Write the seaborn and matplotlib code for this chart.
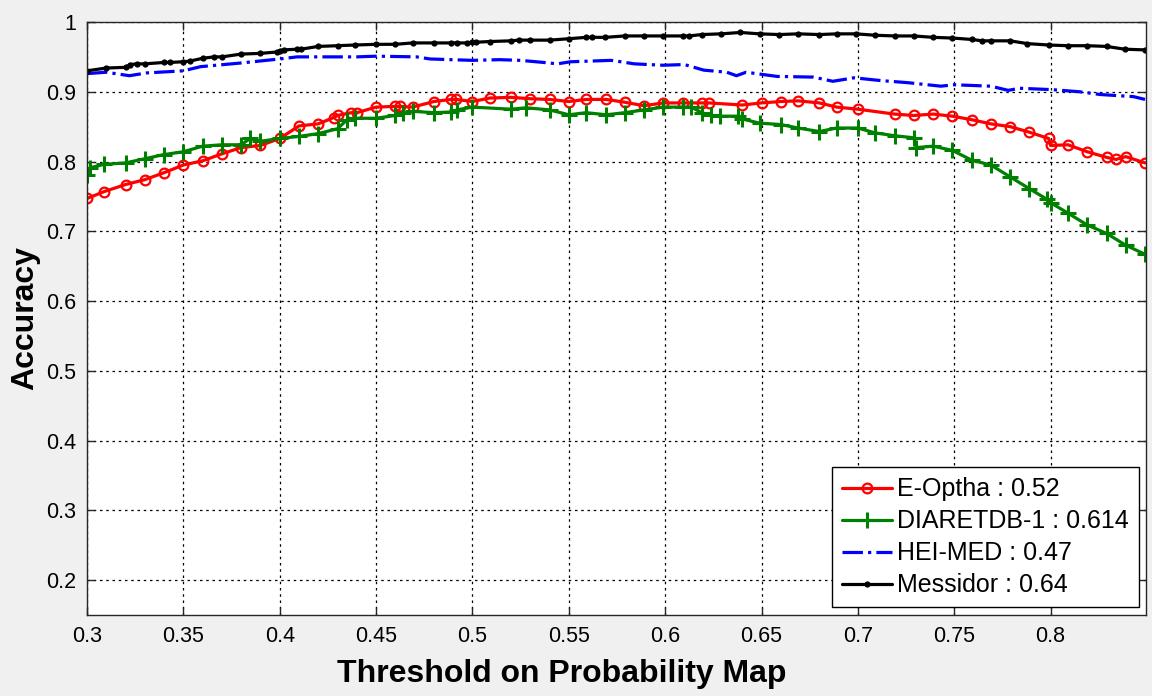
import numpy as np
import pandas as pd
import matplotlib
matplotlib.use('Agg')
import matplotlib.pyplot as plt
import seaborn as sns
from matplotlib.ticker import FuncFormatter

# values
eoptha_x = [0.300, 0.309, 0.320, 0.330, 0.340, 0.350, 0.360, 0.370, 0.380, 0.390, 0.400, 0.410, 0.420, 0.428, 0.430, 0.437,
            0.440, 0.450, 0.460, 0.4625, 0.469, 0.480, 0.489, 0.4915, 0.500, 0.509, 0.520, 0.530, 0.540, 0.550, 0.559, 0.5695,
            0.579, 0.589, 0.599, 0.609, 0.619, 0.6226, 0.640, 0.650, 0.660, 0.669, 0.680, 0.689, 0.700, 0.719, 0.729, 0.739,
            0.749, 0.759, 0.769, 0.779, 0.789, 0.799, 0.800, 0.809, 0.819, 0.829, 0.834, 0.839, 0.849]
eoptha_y = [0.747, 0.757, 0.767, 0.774, 0.784, 0.795, 0.801, 0.811, 0.820, 0.823, 0.833, 0.851, 0.854, 0.863, 0.866, 0.870,
            0.870, 0.878, 0.879, 0.879, 0.878, 0.886, 0.889, 0.889, 0.886, 0.891, 0.892, 0.890, 0.889, 0.886, 0.889, 0.889,
            0.885, 0.880, 0.884, 0.884, 0.884, 0.884, 0.881, 0.884, 0.886, 0.887, 0.884, 0.878, 0.875, 0.868, 0.866, 0.868,
            0.865, 0.860, 0.854, 0.850, 0.842, 0.833, 0.823, 0.824, 0.814, 0.806, 0.803, 0.807, 0.798]

diaret_x = [0.300, 0.3015, 0.309, 0.320, 0.330, 0.340, 0.350, 0.360, 0.370, 0.380, 0.3846, 0.390, 0.400, 0.410, 0.420, 0.430,
            0.435, 0.439, 0.450, 0.460, 0.464, 0.469, 0.480, 0.489, 0.492, 0.500, 0.520, 0.528, 0.540, 0.550, 0.559, 0.5695,
            0.579, 0.589, 0.599, 0.609, 0.6136, 0.619, 0.624, 0.6287, 0.638, 0.640, 0.649, 0.660, 0.669, 0.680, 0.689, 0.700,
            0.709, 0.719, 0.729, 0.7304, 0.739, 0.749, 0.759, 0.769, 0.779, 0.789, 0.798, 0.800, 0.809, 0.819, 0.829, 0.839,
            0.849]
diaret_y = [0.781, 0.791, 0.796, 0.798, 0.804, 0.810, 0.814, 0.822, 0.824, 0.824, 0.833, 0.829, 0.833, 0.836, 0.840, 0.847,
            0.860, 0.862, 0.862, 0.866, 0.869, 0.872, 0.870, 0.871, 0.874, 0.878, 0.875, 0.877, 0.874, 0.867, 0.870, 0.867,
            0.870, 0.874, 0.878, 0.878, 0.878, 0.870, 0.866, 0.865, 0.865, 0.861, 0.855, 0.853, 0.848, 0.843, 0.848, 0.848,
            0.841, 0.837, 0.834, 0.820, 0.822, 0.816, 0.802, 0.795, 0.778, 0.761, 0.746, 0.741, 0.726, 0.709, 0.697, 0.680,
            0.667]

heimed_x = [0.300, 0.310, 0.322, 0.331, 0.350, 0.359, 0.379, 0.400, 0.409, 0.440, 0.450, 0.471, 0.478, 0.500, 0.514, 0.525,
            0.537, 0.544, 0.551, 0.572, 0.577, 0.584, 0.599, 0.610, 0.620, 0.632, 0.637, 0.642, 0.658, 0.677, 0.687, 0.698,
            0.712, 0.726, 0.743, 0.750, 0.769, 0.778, 0.784, 0.801, 0.815, 0.826, 0.843, 0.849]
heimed_y = [0.926, 0.928, 0.923, 0.927, 0.930, 0.936, 0.941, 0.947, 0.950, 0.950, 0.951, 0.950, 0.947, 0.945, 0.946, 0.945,
            0.942, 0.940, 0.943, 0.945, 0.943, 0.940, 0.938, 0.939, 0.931, 0.928, 0.923, 0.928, 0.922, 0.921, 0.915, 0.920,
            0.916, 0.913, 0.908, 0.910, 0.908, 0.902, 0.905, 0.903, 0.900, 0.896, 0.893, 0.889]

messidor_x = [0.300, 0.310, 0.320, 0.3223, 0.326, 0.330, 0.340, 0.343, 0.350, 0.3535, 0.360, 0.366, 0.370, 0.380, 0.390, 0.3985,
              0.400, 0.402, 0.409, 0.411, 0.420, 0.430, 0.439, 0.450, 0.460, 0.469, 0.480, 0.489, 0.492, 0.497, 0.500, 0.502,
              0.509, 0.520, 0.524, 0.530, 0.540, 0.550, 0.559, 0.562, 0.569, 0.579, 0.589, 0.599, 0.609, 0.6125, 0.619, 0.629,
              0.639, 0.649, 0.659, 0.669, 0.680, 0.689, 0.699, 0.709, 0.719, 0.729, 0.739, 0.749, 0.759, 0.7645, 0.769, 0.779,
              0.788, 0.799, 0.809, 0.819, 0.829, 0.8385, 0.849]
messidor_y = [0.930, 0.934, 0.935, 0.939, 0.940, 0.940, 0.942, 0.942, 0.943, 0.944, 0.948, 0.950, 0.950, 0.954, 0.955, 0.957,
              0.959, 0.960, 0.961, 0.961, 0.965, 0.966, 0.967, 0.968, 0.968, 0.970, 0.970, 0.970, 0.970, 0.970, 0.971, 0.971,
              0.972, 0.973, 0.974, 0.974, 0.974, 0.976, 0.978, 0.978, 0.978, 0.980, 0.980, 0.980, 0.980, 0.980, 0.982, 0.983,
              0.985, 0.983, 0.982, 0.983, 0.982, 0.983, 0.983, 0.981, 0.980, 0.980, 0.978, 0.977, 0.975, 0.973, 0.973, 0.973,
              0.969, 0.967, 0.966, 0.966, 0.965, 0.961, 0.960]

labels = ['E-Optha : 0.52', 'DIARETDB-1 : 0.614', 'HEI-MED : 0.47', 'Messidor : 0.64']
x_ticks = [0.3, 0.35, 0.4, 0.45, 0.5, 0.55, 0.6, 0.65, 0.7, 0.75, 0.8]
y_ticks = [0.2, 0.3, 0.4, 0.5, 0.6, 0.7, 0.8, 0.9, 1.0]

sns.set_style('ticks')
plt.rcParams['font.family'] = ['Liberation Sans', 'DejaVu Sans']
plt.rcParams['text.color'] = 'black'
plt.rcParams['axes.labelcolor'] = 'black'

fig = plt.figure(figsize=(11.52, 6.96), dpi=100, facecolor='#f0f0f0')
ax = fig.add_axes([0.0755, 0.1164, 0.9193, 0.8520])
ax.set_facecolor('white')

common = dict(ax=ax, estimator=None, sort=False, linewidth=2.3)
sns.lineplot(x=eoptha_x, y=eoptha_y, color='#ff0000', marker='o', markersize=7,
             markerfacecolor='none', markeredgecolor='#ff0000', markeredgewidth=1.6, label=labels[0], **common)
sns.lineplot(x=diaret_x, y=diaret_y, color='#008000', marker='+', markersize=12,
             markeredgecolor='#008000', markeredgewidth=2.2, label=labels[1], **common)
sns.lineplot(x=heimed_x, y=heimed_y, color='#0000ff', linestyle='-.', label=labels[2], **common)
sns.lineplot(x=messidor_x, y=messidor_y, color='black', marker='o', markersize=4.5,
             markeredgewidth=0, label=labels[3], **common)

ax.set_xlim(0.3, 0.8495)
ax.set_ylim(0.15, 1.0)
ax.set_xticks(x_ticks)
ax.set_yticks(y_ticks)
ax.xaxis.set_major_formatter(FuncFormatter(lambda v, p: f'{v:g}'))
ax.yaxis.set_major_formatter(FuncFormatter(lambda v, p: f'{v:g}'))
ax.tick_params(direction='in', length=6, width=1, colors='#262626', labelcolor='black',
               labelsize=15.5, top=True, right=True, pad=8)
ax.grid(True, color='black', linestyle=(0, (2, 3)), linewidth=0.9)
for s in ax.spines.values():
    s.set_visible(True)
    s.set_color('#262626')
    s.set_linewidth(1)

ax.set_xlabel('Threshold on Probability Map', fontsize=23, fontweight='bold', labelpad=6)
ax.xaxis.set_label_coords(0.448, -0.075)
ax.set_ylabel('Accuracy', fontsize=23, fontweight='bold', labelpad=4)

leg = ax.legend(loc='lower right', fontsize=18, frameon=True, fancybox=False, framealpha=1,
                edgecolor='black', handlelength=2.0, handletextpad=0.2, borderpad=0.4,
                labelspacing=0.32, borderaxespad=0.3)
leg.get_frame().set_linewidth(1)

fig.savefig('out.png', dpi=100, facecolor=fig.get_facecolor())
